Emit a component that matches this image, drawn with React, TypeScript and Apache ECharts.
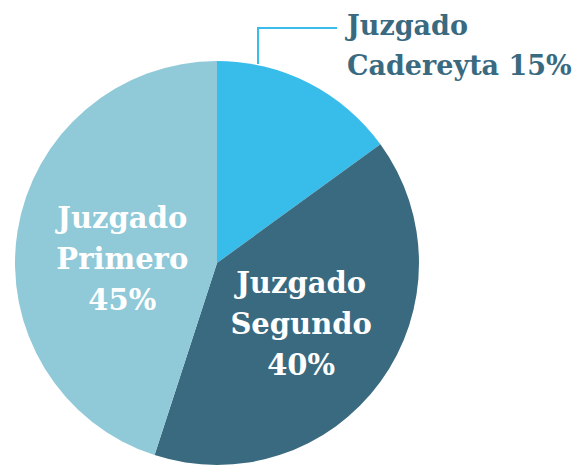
import React, { useEffect, useRef } from "react";
import * as echarts from "echarts";

const names = ["Juzgado\nCadereyta", "Juzgado\nSegundo", "Juzgado\nPrimero"];
const values = [15, 40, 45];
const colors = ["#38BDEB", "#3A6A7F", "#90C9D8"];

export default function App() {
  const ref = useRef<HTMLDivElement>(null);
  useEffect(() => {
    const chart = echarts.init(ref.current!, null, { renderer: "svg" });
    const font = "DejaVu Serif";
    chart.setOption({
      animation: false,
      series: [
        {
          type: "pie",
          center: [217, 263],
          radius: [0, 202],
          startAngle: 90,
          clockwise: true,
          data: names.map((n, i) => ({
            name: n,
            value: values[i],
            itemStyle: { color: colors[i] },
            label:
              i === 0
                ? {
                    position: "outside",
                    color: "#3A6A7F",
                    align: "left",
                    overflow: "none",
                    fontSize: 27,
                    lineHeight: 40,
                    formatter: (p: any) => p.name + " " + p.value + "%",
                  }
                : { position: "inside", color: "#ffffff" },
            labelLine: i === 0 ? { show: true } : { show: false },
          })),
          label: {
            fontFamily: font,
            fontWeight: "bold",
            fontSize: 29,
            lineHeight: 41,
            align: "center",
            overflow: "none",
            formatter: (p: any) => p.name + "\n" + p.value + "%",
          },
          labelLine: {
            lineStyle: { color: "#38BDEB", width: 2 },
          },
          labelLayout: (params: any) => {
            if (params.dataIndex === 0) {
              return {
                x: 347,
                y: 45,
                align: "left",
                verticalAlign: "middle",
                width: 240,
                labelLinePoints: [
                  [258, 64],
                  [258, 28],
                  [337, 28],
                ],
              };
            }
            if (params.dataIndex === 2) {
              return { dx: 8, dy: 12 };
            }
            return {};
          },
          itemStyle: { borderWidth: 0 },
        },
      ],
    });
    return () => chart.dispose();
  }, []);
  return (
    <div
      ref={ref}
      style={{ position: "fixed", left: 0, top: 0, width: 582, height: 467, background: "#fff" }}
    />
  );
}
